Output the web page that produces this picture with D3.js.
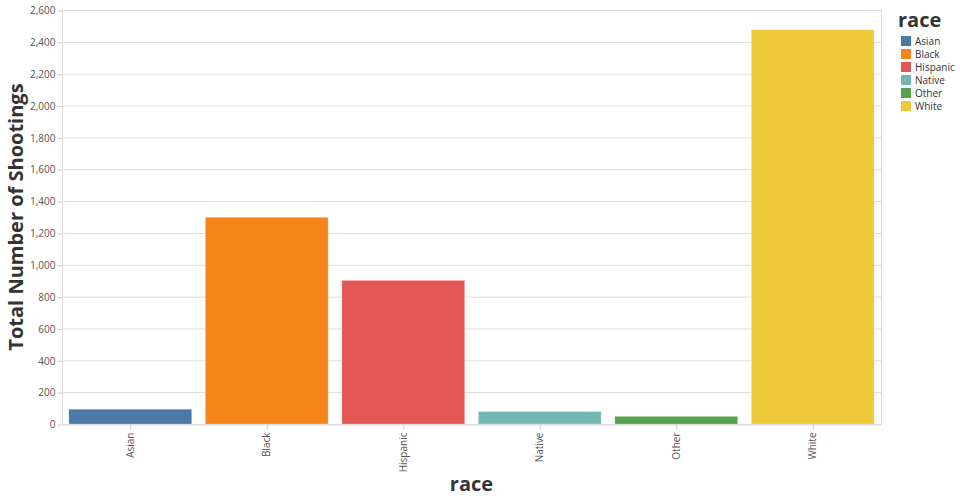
<!DOCTYPE html>
<html><head><meta charset="utf-8">
<script src="https://cdn.jsdelivr.net/npm/d3@7"></script>
<style>body{margin:0;background:#fff;font-family:"Open Sans",sans-serif;}</style>
</head><body><svg id="c" width="960" height="500"></svg>
<script>
const categories = ["Asian","Black","Hispanic","Native","Other","White"];
const values = [93, 1298, 902, 78, 48, 2476];
const colors = ["#4c78a8","#f58518","#e45756","#72b7b2","#54a24b","#eeca3b"];
const yTicks = [0,200,400,600,800,1000,1200,1400,1600,1800,2000,2200,2400,2600];

const svg = d3.select("#c");
const m = {l:62, t:10, r:881, b:424};
const x = d3.scaleBand().domain(categories).range([m.l, m.r]).paddingInner(0.1).paddingOuter(0.05);
const y = d3.scaleLinear().domain([0,2600]).range([m.b, m.t]);
const color = d3.scaleOrdinal().domain(categories).range(colors);

// grid
svg.append("g").selectAll("line").data(yTicks).join("line")
  .attr("x1", m.l).attr("x2", m.r).attr("y1", d=>y(d)+0.5).attr("y2", d=>y(d)+0.5)
  .attr("stroke","#ddd");
svg.append("line").attr("x1",m.l+0.5).attr("x2",m.l+0.5).attr("y1",m.t).attr("y2",m.b).attr("stroke","#ddd");
svg.append("line").attr("x1",m.r+0.5).attr("x2",m.r+0.5).attr("y1",m.t).attr("y2",m.b).attr("stroke","#ddd");

// bars
svg.append("g").selectAll("rect").data(categories).join("rect")
  .attr("x", d=>x(d)).attr("width", x.bandwidth())
  .attr("y", (d,i)=>y(values[i])).attr("height", (d,i)=>y(0)-y(values[i]))
  .attr("fill", d=>color(d)).attr("stroke", "rgba(255,255,255,0.25)").attr("stroke-width",1);

// y axis
const ya = d3.axisLeft(y).tickValues(yTicks).tickFormat(d3.format(",")).tickSize(5).tickSizeOuter(0).tickPadding(2);
const gy = svg.append("g").attr("transform",`translate(${m.l+0.5},0.5)`).call(ya);
gy.select(".domain").remove();
gy.selectAll(".tick line").attr("stroke","#ccc");
gy.selectAll("text").attr("fill","#555").style("font-family","Open Sans").style("font-size","10px");

// x axis
const xa = d3.axisBottom(x).tickSize(5).tickSizeOuter(0).tickPadding(2);
const gx = svg.append("g").attr("transform",`translate(0.5,${m.b+0.5})`).call(xa);
gx.select(".domain").attr("stroke","#ddd");
gx.selectAll(".tick line").attr("stroke","#ccc");
gx.selectAll("text").attr("fill","#555").style("font-family","Open Sans").style("font-size","10px")
  .attr("transform","rotate(-90)").attr("text-anchor","end").attr("x",-8).attr("y",0).attr("dy","0.32em");

// titles
svg.append("text").attr("x",(m.l+m.r)/2).attr("y",491).attr("text-anchor","middle")
  .style("font-family","Open Sans").style("font-weight","bold").style("font-size","20px").attr("fill","#333").text("race");
svg.append("text").attr("transform",`translate(23,${(m.t+m.b)/2}) rotate(-90)`).attr("text-anchor","middle")
  .style("font-family","Open Sans").style("font-weight","bold").style("font-size","20px").attr("fill","#333").text("Total Number of Shootings");

// legend
const lg = svg.append("g").attr("transform","translate(898,0)");
lg.append("text").attr("x",0).attr("y",27).style("font-family","Open Sans").style("font-weight","bold")
  .style("font-size","20px").attr("fill","#333").text("race");
const items = lg.selectAll("g").data(categories).join("g").attr("transform",(d,i)=>`translate(3,${36+i*13})`);
items.append("rect").attr("width",10).attr("height",10).attr("fill",d=>color(d));
items.append("text").attr("x",14).attr("y",8.5).style("font-family","Open Sans").style("font-size","10px")
  .attr("fill","#333").text(d=>d);
</script></body></html>
